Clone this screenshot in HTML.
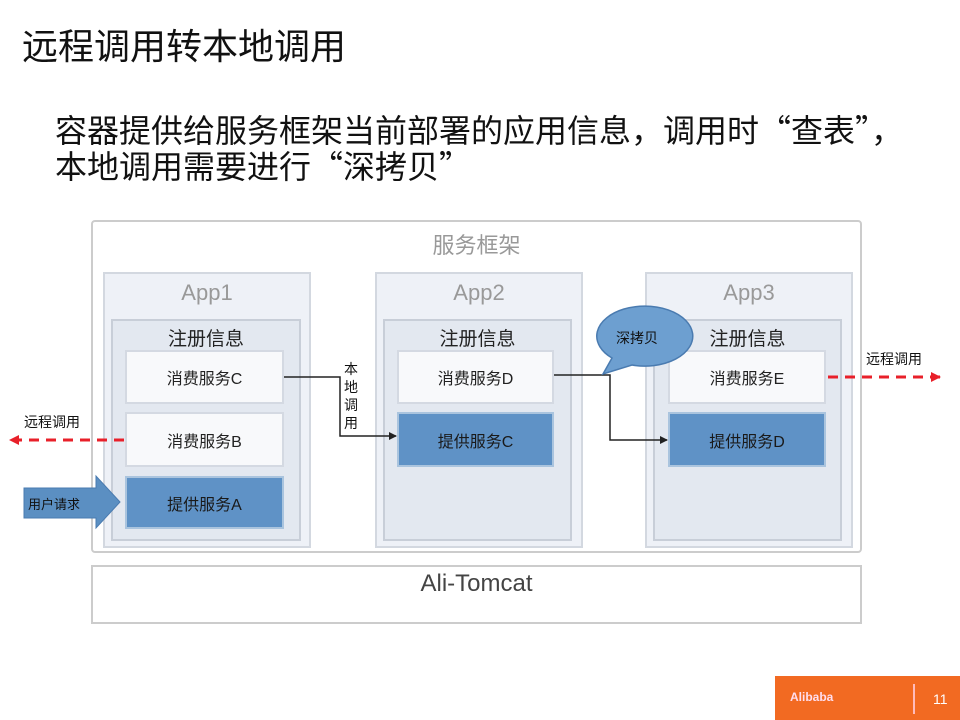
<!DOCTYPE html>
<html><head><meta charset="utf-8"><style>
body{margin:0;width:960px;height:720px;background:#fff;overflow:hidden;position:relative;font-family:"Liberation Sans","Noto Sans CJK SC",sans-serif}
.a{position:absolute;box-sizing:border-box}
.t{position:absolute;white-space:nowrap}
.app{border:2px solid #d3d8e0;background:#eef1f7}
.reg{border:2px solid #c8ced8;background:#e3e8f0}
.w{border:2px solid #d4d9e2;background:#f8f9fb;display:flex;align-items:center;justify-content:center;font-size:16px;color:#222}
.b{border:2px solid #aac4de;background:#5f92c6;display:flex;align-items:center;justify-content:center;font-size:16px;color:#1a1a1a}
.al{font-size:22px;color:#999;text-align:center}
.rl{font-size:19px;color:#222;text-align:center}
.q{font-family:"Noto Sans CJK SC",sans-serif}
</style></head><body>
<div class="t" style="left:22px;top:18px;font-size:36px;color:#111">远程调用转本地调用</div>
<div class="t" style="left:55px;top:112px;font-size:32px;color:#111;line-height:34px"><span class="q">容器提供给服务框架当前部署的应用信息，调用时“查表”，</span><br><span class="q">本地调用需要进行“深拷贝”</span></div>

<div class="a" style="left:91px;top:220px;width:771px;height:333px;border:2px solid #ccc;border-radius:4px"></div>
<div class="t" style="left:91px;width:771px;top:228px;text-align:center;font-size:22px;color:#999">服务框架</div>
<div class="a" style="left:91px;top:565px;width:771px;height:59px;border:2px solid #ccc"></div>
<div class="t" style="left:91px;width:771px;top:570px;text-align:center;font-size:24px;color:#444">Ali-Tomcat</div>

<div class="a app" style="left:103px;top:272px;width:208px;height:276px"></div>
<div class="t al" style="left:103px;width:208px;top:280px">App1</div>
<div class="a reg" style="left:111px;top:319px;width:190px;height:222px"></div>
<div class="t rl" style="left:111px;width:190px;top:324px">注册信息</div>
<div class="a w" style="left:125px;top:350px;width:159px;height:54px">消费服务C</div>
<div class="a w" style="left:125px;top:412px;width:159px;height:55px">消费服务B</div>
<div class="a b" style="left:125px;top:476px;width:159px;height:53px">提供服务A</div>

<div class="a app" style="left:375px;top:272px;width:208px;height:276px"></div>
<div class="t al" style="left:375px;width:208px;top:280px">App2</div>
<div class="a reg" style="left:383px;top:319px;width:189px;height:222px"></div>
<div class="t rl" style="left:383px;width:189px;top:324px">注册信息</div>
<div class="a w" style="left:397px;top:350px;width:157px;height:54px">消费服务D</div>
<div class="a b" style="left:397px;top:412px;width:157px;height:55px">提供服务C</div>

<div class="a app" style="left:645px;top:272px;width:208px;height:276px"></div>
<div class="t al" style="left:645px;width:208px;top:280px">App3</div>
<div class="a reg" style="left:653px;top:319px;width:189px;height:222px"></div>
<div class="t rl" style="left:653px;width:189px;top:324px">注册信息</div>
<div class="a w" style="left:668px;top:350px;width:158px;height:54px">消费服务E</div>
<div class="a b" style="left:668px;top:412px;width:158px;height:55px">提供服务D</div>

<svg class="a" style="left:0;top:0" width="960" height="720">
<defs><marker id="k" markerWidth="8" markerHeight="8" refX="7" refY="4" orient="auto" markerUnits="userSpaceOnUse"><path d="M0,0L8,4L0,8z" fill="#222"/></marker>
<marker id="r" markerWidth="10" markerHeight="10" refX="9" refY="5" orient="auto" markerUnits="userSpaceOnUse"><path d="M0,0L10,5L0,10z" fill="#e8202a"/></marker></defs>
<polyline points="284,377 340,377 340,436 396,436" fill="none" stroke="#222" stroke-width="1.5" marker-end="url(#k)"/>
<polyline points="554,375 610,375 610,440 667,440" fill="none" stroke="#222" stroke-width="1.5" marker-end="url(#k)"/>
<line x1="124" y1="440" x2="10" y2="440" stroke="#e8202a" stroke-width="3" stroke-dasharray="10,7" marker-end="url(#r)"/>
<line x1="828" y1="377" x2="940" y2="377" stroke="#e8202a" stroke-width="3" stroke-dasharray="10,7" marker-end="url(#r)"/>
<path d="M603,374 L612,358 A48,30 0 1 1 632,365 Z" fill="#6d9fd0" stroke="#4a7bb0" stroke-width="1.5"/>
<path d="M24,488 L96,488 L96,476 L120,502 L96,528 L96,518 L24,518 Z" fill="#5b8fc2" stroke="#4a7bb0"/>
</svg>
<div class="t" style="left:344px;top:360px;width:18px;font-size:14px;line-height:18px;color:#111;white-space:normal">本地调用</div>
<div class="t" style="left:616px;top:328px;font-size:14px;color:#111">深拷贝</div>
<div class="t" style="left:24px;top:412px;font-size:14px;color:#111">远程调用</div>
<div class="t" style="left:866px;top:349px;font-size:14px;color:#111">远程调用</div>
<div class="t" style="left:28px;top:494px;font-size:13px;color:#111">用户请求</div>

<div class="a" style="left:775px;top:676px;width:185px;height:44px;background:#f26a22"></div>
<div class="t" style="left:790px;top:690px;font-size:12px;font-weight:bold;color:#fde">Alibaba</div>
<div class="a" style="left:913px;top:684px;width:2px;height:30px;background:#fbb"></div>
<div class="t" style="left:933px;top:691px;font-size:14px;color:#fff">11</div>
</body></html>
